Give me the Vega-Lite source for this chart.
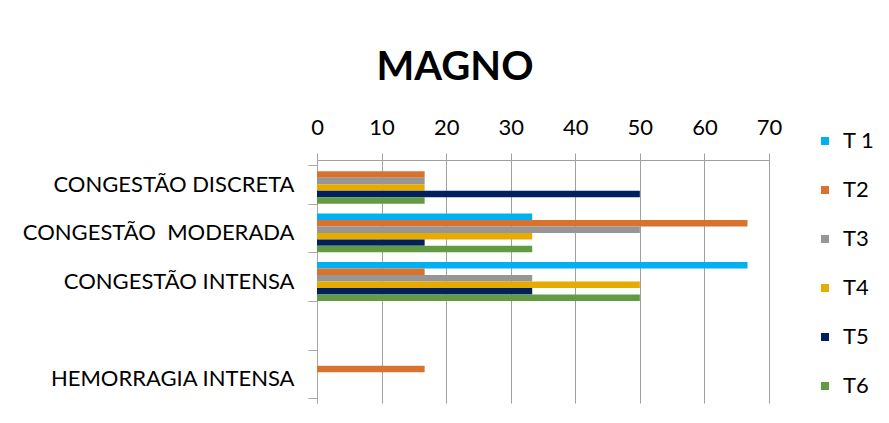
{
  "$schema": "https://vega.github.io/schema/vega-lite/v6.json",
  "width": 452,
  "height": 243,
  "autosize": {"type": "none"},
  "padding": {"left": 317, "top": 160, "right": 120, "bottom": 20},
  "background": "white",
  "title": {
    "text": "MAGNO",
    "font": "Lato",
    "fontSize": 40,
    "fontWeight": "bold",
    "color": "#000000",
    "anchor": "middle",
    "frame": "group",
    "dx": -88,
    "offset": -4,
    "baseline": "alphabetic"
  },
  "data": {
    "values": [
      {"categoria": "CONGESTÃO DISCRETA", "serie": "T2", "valor": 16.67},
      {"categoria": "CONGESTÃO DISCRETA", "serie": "T3", "valor": 16.67},
      {"categoria": "CONGESTÃO DISCRETA", "serie": "T4", "valor": 16.67},
      {"categoria": "CONGESTÃO DISCRETA", "serie": "T5", "valor": 50},
      {"categoria": "CONGESTÃO DISCRETA", "serie": "T6", "valor": 16.67},
      {"categoria": "CONGESTÃO\u00a0 MODERADA", "serie": "T 1", "valor": 33.33},
      {"categoria": "CONGESTÃO\u00a0 MODERADA", "serie": "T2", "valor": 66.67},
      {"categoria": "CONGESTÃO\u00a0 MODERADA", "serie": "T3", "valor": 50},
      {"categoria": "CONGESTÃO\u00a0 MODERADA", "serie": "T4", "valor": 33.33},
      {"categoria": "CONGESTÃO\u00a0 MODERADA", "serie": "T5", "valor": 16.67},
      {"categoria": "CONGESTÃO\u00a0 MODERADA", "serie": "T6", "valor": 33.33},
      {"categoria": "CONGESTÃO INTENSA", "serie": "T 1", "valor": 66.67},
      {"categoria": "CONGESTÃO INTENSA", "serie": "T2", "valor": 16.67},
      {"categoria": "CONGESTÃO INTENSA", "serie": "T3", "valor": 33.33},
      {"categoria": "CONGESTÃO INTENSA", "serie": "T4", "valor": 50},
      {"categoria": "CONGESTÃO INTENSA", "serie": "T5", "valor": 33.33},
      {"categoria": "CONGESTÃO INTENSA", "serie": "T6", "valor": 50},
      {"categoria": "HEMORRAGIA INTENSA", "serie": "T2", "valor": 16.67}
    ]
  },
  "mark": {"type": "bar"},
  "encoding": {
    "y": {
      "field": "categoria",
      "type": "nominal",
      "sort": null,
      "scale": {
        "domain": ["CONGESTÃO DISCRETA", "CONGESTÃO\u00a0 MODERADA", "CONGESTÃO INTENSA", " ", "HEMORRAGIA INTENSA"],
        "paddingInner": 0.2,
        "paddingOuter": 0.1
      },
      "axis": {
        "title": null,
        "tickBand": "extent",
        "domainColor": "#A6A6A6",
        "tickColor": "#A6A6A6",
        "tickSize": 9,
        "labelPadding": 14,
        "labelFont": "Lato",
        "labelFontSize": 22,
        "labelColor": "#000000",
        "labelLimit": 400,
        "grid": false
      }
    },
    "yOffset": {
      "field": "serie",
      "type": "nominal",
      "scale": {"domain": ["T 1", "T2", "T3", "T4", "T5", "T6"], "paddingInner": 0, "paddingOuter": 0}
    },
    "x": {
      "field": "valor",
      "type": "quantitative",
      "scale": {"domain": [0, 70], "nice": false},
      "axis": {
        "orient": "top",
        "title": null,
        "values": [0, 10, 20, 30, 40, 50, 60, 70],
        "grid": true,
        "gridColor": "#A0A0A0",
        "domainColor": "#A0A0A0",
        "tickColor": "#A0A0A0",
        "tickSize": 7,
        "labelPadding": 19,
        "labelBaseline": "alphabetic",
        "labelFlush": false,
        "labelFont": "Lato",
        "labelFontSize": 22,
        "labelColor": "#000000"
      }
    },
    "color": {
      "field": "serie",
      "type": "nominal",
      "scale": {
        "domain": ["T 1", "T2", "T3", "T4", "T5", "T6"],
        "range": ["#00B0F0", "#D9712F", "#969696", "#E7AB00", "#002060", "#629B42"]
      },
      "legend": {
        "title": null,
        "orient": "none",
        "direction": "vertical",
        "legendX": 497,
        "legendY": -30,
        "padding": 0,
        "symbolType": "square",
        "symbolSize": 64,
        "symbolStrokeWidth": 0,
        "labelFont": "Lato",
        "labelFontSize": 22,
        "labelColor": "#000000",
        "labelOffset": 7,
        "rowPadding": 27
      }
    }
  },
  "config": {"view": {"stroke": null}}
}
